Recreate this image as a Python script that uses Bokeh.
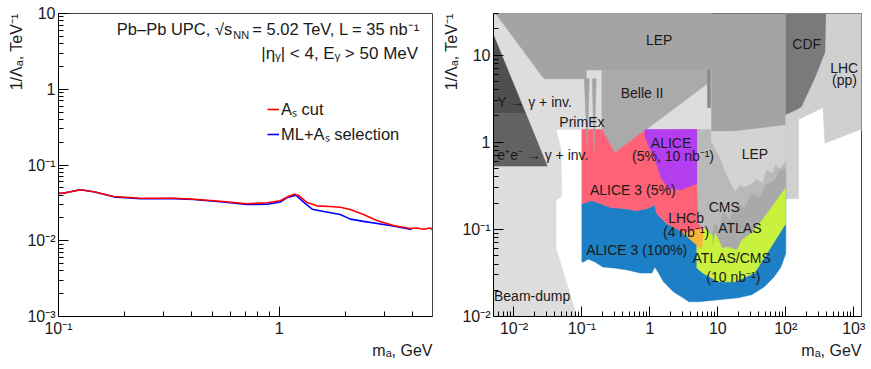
from bokeh.plotting import figure
from bokeh.models import FixedTicker, Range1d, Legend, LegendItem, Title
from bokeh.layouts import row
from bokeh.embed import file_html
from bokeh.resources import INLINE
from bokeh.core.properties import value

FONT = "Liberation Sans"
TXT = "#1a1a1a"

# ---------------- left panel data (m_a [GeV], 1/Lambda_a [TeV^-1]) ----------------
mass_as_cut = [0.1, 0.1076, 0.1257, 0.1445, 0.178, 0.235, 0.333, 0.410, 0.541, 0.714, 0.880,
               1.01, 1.10, 1.17, 1.22, 1.33, 1.48, 1.70, 1.89, 2.10, 2.41, 2.77, 3.29, 3.92,
               4.20, 4.50, 4.82, 4.95]
limit_as_cut = [0.0420, 0.0429, 0.0471, 0.0443, 0.0384, 0.0364, 0.0364, 0.0353, 0.0333, 0.0308,
                0.0317, 0.0337, 0.0384, 0.0412, 0.0399, 0.0323, 0.0289, 0.0283, 0.0277, 0.0259,
                0.0222, 0.0185, 0.0159, 0.0145, 0.0147, 0.0142, 0.0147, 0.0141]
mass_ml = [0.1, 0.1076, 0.1257, 0.1445, 0.178, 0.235, 0.333, 0.410, 0.541, 0.714, 0.880, 0.942,
           1.01, 1.083, 1.19, 1.29, 1.41, 1.59, 1.89, 2.10, 2.41, 3.18, 3.92, 3.98]
limit_ml = [0.0420, 0.0429, 0.0471, 0.0443, 0.0380, 0.0358, 0.0360, 0.0350, 0.0328, 0.0301,
            0.0303, 0.0313, 0.0325, 0.0369, 0.0399, 0.0323, 0.0261, 0.0243, 0.0222, 0.0193,
            0.0180, 0.0159, 0.0142, 0.0141]

left_x_ticks = [0.1, 1.0]
left_x_labels = ["10⁻¹", "1"]
left_y_ticks = [0.001, 0.01, 0.1, 1.0, 10.0]
left_y_labels = ["10⁻³", "10⁻²", "10⁻¹", "1", "10"]

right_x_ticks = [0.01, 0.1, 1.0, 10.0, 100.0, 1000.0]
right_x_labels = ["10⁻²", "10⁻¹", "1", "10", "10²", "10³"]
right_y_ticks = [0.01, 0.1, 1.0, 10.0]
right_y_labels = ["10⁻²", "10⁻¹", "1", "10"]

x_title = "mₐ, GeV"
y_title = "1/Λₐ, TeV⁻¹"

# ---------------- right panel: exclusion regions (m_a [GeV], 1/Lambda_a [TeV^-1]) ----------------
LIGHT_BG = [(0.004, 40), (8.06, 40), (8.06, 1.4), (0.0416, 1.4), (0.0491, 0.832), (0.0507, 0.243),
            (0.0416, 0.214), (0.0416, 0.0608), (0.0875, 0.009), (0.004, 0.009)]
LEP_TOP = [(0.0041, 40), (100, 40), (100, 1.56), (17.9, 1.33), (8.06, 1.33), (8.06, 6.76),
           (0.116, 6.76), (0.116, 5.34), (0.0279, 5.34), (0.0245, 6.08)]
BELLE2 = [(0.197, 6.76), (7.30, 6.76), (7.30, 4.81), (0.303, 0.750), (0.197, 1.4)]
SPIKE = [(7.06, 6.76), (7.80, 6.76), (7.80, 2.50), (7.06, 2.50)]
UPSILON = [(0.005, 16.9), (0.0149, 2.13), (0.005, 2.13)]
EE_INV = [(0.005, 2.13), (0.0149, 2.13), (0.0308, 0.533), (0.005, 0.533)]
LHC_PP = [(100, 40), (2000, 40), (2000, 1.27), (1241, 1.4), (376, 0.975), (352, 2.50),
          (154, 1.83), (154, 0.225), (100, 0.225)]
CDF = [(100, 40), (389, 40), (376, 10.8), (270, 5.62), (170, 2.57), (144, 2.37), (100, 2.08)]
ALICE3_100 = [(0.1, 0.197), (0.124, 0.208), (0.137, 0.214), (0.191, 0.197), (0.265, 0.178),
              (0.423, 0.173), (0.650, 0.164), (0.906, 0.173), (1.142, 0.1874), (1.180, 0.192),
              (1.261, 0.152), (1.756, 0.117), (2.446, 0.1026), (3.763, 0.0925), (5.07, 0.0811),
              (100, 0.32), (100, 0.0534), (84.7, 0.0370), (67.2, 0.0285), (48.2, 0.0219),
              (31.4, 0.0178), (19.7, 0.0164), (10.2, 0.0156), (5.24, 0.0148), (3.763, 0.0148),
              (3.085, 0.0164), (2.215, 0.0192), (1.590, 0.0250), (1.347, 0.0316), (1.180, 0.0370),
              (1.069, 0.0316), (0.718, 0.0316), (0.467, 0.0342), (0.303, 0.0360), (0.204, 0.0370),
              (0.156, 0.0422), (0.124, 0.0456), (0.105, 0.0422), (0.1, 0.0422)]
ALICE3_5 = [(0.1, 1.4), (0.197, 1.4), (0.303, 0.750), (0.848, 1.37), (5.0, 1.4), (5.0, 0.333),
            (5.24, 0.117), (6.18, 0.1026), (3.189, 0.0901), (2.446, 0.1026), (1.756, 0.117),
            (1.261, 0.152), (1.180, 0.192), (1.142, 0.1874), (0.906, 0.173), (0.650, 0.164),
            (0.423, 0.173), (0.265, 0.178), (0.191, 0.197), (0.137, 0.214), (0.124, 0.208),
            (0.1, 0.197)]
ALICE_PBPB = [(0.848, 1.4), (5.0, 1.4), (5.0, 0.333), (4.02, 0.316), (2.887, 0.285), (1.877, 0.300),
              (1.488, 0.380), (1.180, 0.641), (0.967, 0.900), (0.848, 1.17)]
CMS = [(5.0, 1.4), (8.06, 1.4), (8.06, 1.33), (17.9, 1.33), (100, 1.56), (100, 0.300), (53.3, 0.152),
       (31.4, 0.0901), (17.9, 0.0608), (12.8, 0.0608), (10.2, 0.0693), (8.33, 0.0855),
       (6.18, 0.1026), (5.24, 0.117), (5.0, 0.333)]
LEP_LOW = [(8.06, 1.33), (17.9, 1.33), (100, 1.56), (100, 0.608), (82.0, 0.507), (69.5, 0.562),
           (62.9, 0.444), (51.5, 0.493), (45.2, 0.342), (37.0, 0.380), (31.4, 0.333), (24.9, 0.308),
           (21.1, 0.325), (17.9, 0.278), (13.7, 0.411), (10.5, 0.693), (8.06, 1.03)]
ATLAS = [(8.06, 0.0832), (9.20, 0.120), (10.5, 0.0975), (12.0, 0.156), (15.1, 0.1265), (19.1, 0.197),
         (24.9, 0.173), (31.4, 0.2566), (40.9, 0.231), (51.5, 0.325), (67.2, 0.360), (82.0, 0.468),
         (100, 0.493), (100, 0.300), (53.3, 0.152), (31.4, 0.0901), (22.5, 0.0750), (19.1, 0.0577),
         (14.2, 0.0624), (11.6, 0.0608), (9.20, 0.0901), (8.33, 0.0624)]
ATLAS_CMS_PBPB = [(4.906, 0.0658), (5.79, 0.0791), (6.18, 0.1026), (8.33, 0.0855), (8.33, 0.0624),
                  (9.20, 0.0901), (11.6, 0.0608), (14.2, 0.0624), (19.1, 0.0577), (22.5, 0.0750),
                  (31.4, 0.0901), (53.3, 0.152), (100, 0.300), (100, 0.117), (53.3, 0.0534),
                  (34.6, 0.0316), (17.9, 0.0250), (10.2, 0.0250), (5.98, 0.0316), (4.906, 0.0360)]
LHCB = [(3.085, 0.0901), (6.18, 0.1026), (5.79, 0.0593)]
PRIMEX_1 = [(0.1086, 5.34), (0.128, 5.34), (0.120, 0.832)]
PRIMEX_2 = [(0.142, 5.34), (0.162, 5.34), (0.151, 0.790)]

region_order = [
    (LIGHT_BG, "#dddddd"), (LEP_TOP, "#a4a4a4"), (BELLE2, "#aaaaaa"), (SPIKE, "#8a8a8a"),
    (UPSILON, "#4f4f4f"), (EE_INV, "#626262"), (LHC_PP, "#d0d0d0"), (CDF, "#7a7a7a"),
    (ALICE3_100, "#1d7fc5"), (ALICE3_5, "#fd6276"), (ALICE_PBPB, "#b23ef0"),
    (CMS, "#b9b9b9"), (LEP_LOW, "#d3d3d3"), (ATLAS, "#a9a9a9"), (ATLAS_CMS_PBPB, "#c8f23e"),
    (LHCB, "#f9b43c"), (PRIMEX_1, "#a4a4a4"), (PRIMEX_2, "#a4a4a4"),
]

# labels: text, m, y
center_labels = ["LEP", "CDF", "LHC", "(pp)", "Belle II", "PrimEx", "ALICE", "(5%, 10 nb⁻¹)", "LEP",
                 "ALICE 3 (5%)", "CMS", "LHCb", "(4 nb⁻¹)", "ATLAS", "ALICE 3 (100%)", "ATLAS/CMS",
                 "(10 nb⁻¹)", "Beam-dump"]
center_m = [1.37, 203, 723, 730, 0.767, 0.1, 2.05, 2.19, 35.2, 0.56, 12.4, 3.41, 3.41, 21.1, 0.64,
            16.0, 16.9, 0.0185]
center_y = [14.7, 13.4, 7.17, 5.16, 3.63, 1.69, 0.982, 0.693, 0.736, 0.283, 0.1825, 0.136, 0.0932,
            0.1035, 0.0577, 0.0465, 0.0287, 0.0173]
left_labels = ["Υ → γ + inv.", "e⁺e⁻ → γ + inv."]
left_m = [0.0057, 0.0057]
left_y = [2.92, 0.711]


def minors(lo, hi):
    return [k * 10.0 ** e for e in range(lo, hi) for k in range(2, 10)]


def style(p, xt, xl, xmin, yt, yl, ymin):
    p.xgrid.visible = False
    p.ygrid.visible = False
    p.outline_line_color = "#444444"
    p.outline_line_width = 1
    p.background_fill_color = "white"
    p.border_fill_color = "white"
    for ax, t, l, mn in ((p.xaxis[0], xt, xl, xmin), (p.yaxis[0], yt, yl, ymin)):
        ax.ticker = FixedTicker(ticks=t, minor_ticks=mn)
        ax.major_label_overrides = {float(a): b for a, b in zip(t, l)}
        ax.major_tick_in = 10
        ax.major_tick_out = 0
        ax.minor_tick_in = 5
        ax.minor_tick_out = 0
        ax.major_tick_line_color = "black"
        ax.minor_tick_line_color = "black"
        ax.axis_line_color = "black"
        ax.major_label_text_font = FONT
        ax.major_label_text_font_size = "16px"
        ax.major_label_text_color = TXT
        ax.major_label_standoff = 3
    # axis titles aligned to the far end of each axis, as in the reference
    p.add_layout(Title(text=x_title, align="right", text_font=FONT, text_font_size="16px",
                       text_font_style="normal", text_color=TXT, standoff=0, offset=0), "below")
    p.add_layout(Title(text=y_title, align="right", text_font=FONT, text_font_size="16px",
                       text_font_style="normal", text_color=TXT, standoff=0, offset=0), "left")


H = 368
# ---------------- left figure ----------------
left = figure(width=440, height=H, x_axis_type="log", y_axis_type="log",
              x_range=Range1d(0.1, 4.95), y_range=Range1d(1e-3, 10),
              output_backend="svg", toolbar_location=None,
              min_border_left=58, min_border_right=8, min_border_top=13, min_border_bottom=52)
style(left, left_x_ticks, left_x_labels, minors(-1, 1), left_y_ticks, left_y_labels, minors(-3, 1))

r_ml = left.line(mass_ml, limit_ml, line_color="#0000ff", line_width=1.6)
r_as = left.line(mass_as_cut, limit_as_cut, line_color="#ff0000", line_width=1.6)

legend = Legend(items=[LegendItem(label="Aₛ cut", renderers=[r_as]),
                       LegendItem(label="ML+Aₛ selection", renderers=[r_ml])],
                location=(209, 171), border_line_color=None, background_fill_alpha=0,
                padding=0, margin=0, spacing=2, glyph_width=12, glyph_height=20,
                label_height=20, label_standoff=2, label_text_font=FONT,
                label_text_font_size="16.5px", label_text_color=TXT)
left.add_layout(legend)

left.text(x=[0.6127], y=[6.15], text=["Pb–Pb UPC, √s"], text_font=value(FONT),
          text_font_size="16.5px", text_color=TXT, text_align="right", text_baseline="middle")
left.text(x=[0.619], y=[5.28], text=["NN"], text_font=value(FONT),
          text_font_size="11px", text_color=TXT, text_align="left", text_baseline="middle")
left.text(x=[0.755], y=[6.15], text=[" = 5.02 TeV, L = 35 nb⁻¹"], text_font=value(FONT),
          text_font_size="16.5px", text_color=TXT, text_align="left", text_baseline="middle")
left.text(x=[4.26], y=[2.97], text=["|ηᵧ| < 4, Eᵧ > 50 MeV"], text_font=value(FONT),
          text_font_size="17px", text_color=TXT, text_align="right", text_baseline="middle")

# ---------------- right figure ----------------
right = figure(width=429, height=H, x_axis_type="log", y_axis_type="log",
               x_range=Range1d(0.005, 1300), y_range=Range1d(0.01, 30),
               output_backend="svg", toolbar_location=None,
               min_border_left=53, min_border_right=8, min_border_top=12, min_border_bottom=52)
style(right, right_x_ticks, right_x_labels, minors(-3, 4), right_y_ticks, right_y_labels,
      minors(-2, 2))

for verts, col in region_order:
    xs = [v[0] for v in verts]
    ys = [v[1] for v in verts]
    right.patch(xs, ys, fill_color=col, line_color=col, line_width=0.6)

right.text(x=center_m, y=center_y, text=center_labels, text_font=value(FONT),
           text_font_size="14px", text_color=TXT, text_align="center", text_baseline="middle")
right.text(x=left_m, y=left_y, text=left_labels, text_font=value(FONT),
           text_font_size="14px", text_color=TXT, text_align="left", text_baseline="middle")

layout = row(left, right)
open("out.html", "w").write(file_html(layout, INLINE))
